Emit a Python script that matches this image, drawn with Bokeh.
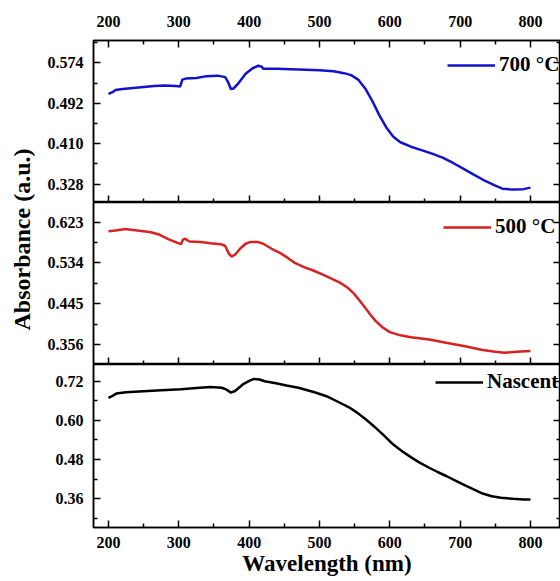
from bokeh.plotting import figure
from bokeh.models import (Range1d, LinearAxis, FixedTicker, PrintfTickFormatter,
                          Legend, LegendItem, Label, CustomLabelingPolicy)
from bokeh.layouts import row, column
from bokeh.embed import file_html
from bokeh.resources import INLINE

# ---------------- data ----------------
wl_700 = [200, 205, 210, 220, 235, 250, 265, 280, 295, 302, 305, 310, 325, 340, 355,
          366, 370, 374, 378, 385, 395, 405, 413, 418, 420, 440, 460, 480, 500, 520,
          535, 545, 555, 565, 575, 585, 595, 605, 615, 630, 645, 660, 675, 690, 705,
          720, 735, 750, 760, 775, 790, 800]
abs_700 = [0.511, 0.514, 0.519, 0.521, 0.523, 0.525, 0.527, 0.528, 0.527, 0.526, 0.540,
           0.542, 0.543, 0.547, 0.548, 0.545, 0.535, 0.521, 0.522, 0.533, 0.552, 0.563,
           0.568, 0.566, 0.562, 0.562, 0.561, 0.560, 0.559, 0.557, 0.553, 0.549, 0.540,
           0.522, 0.497, 0.468, 0.443, 0.424, 0.413, 0.404, 0.397, 0.390, 0.382, 0.371,
           0.359, 0.347, 0.335, 0.325, 0.319, 0.317, 0.318, 0.321]

wl_500 = [200, 210, 224, 235, 250, 260, 272, 285, 298, 303, 306, 309, 315, 331, 345,
          360, 366, 371, 375, 380, 387, 395, 402, 412, 420, 432, 445, 455, 465, 478,
          492, 504, 517, 529, 540, 549, 557, 565, 573, 580, 590, 600, 615, 630, 656,
          680, 707, 732, 750, 763, 780, 800]
abs_500 = [0.603, 0.605, 0.608, 0.606, 0.603, 0.601, 0.596, 0.586, 0.578, 0.575, 0.585,
           0.587, 0.581, 0.580, 0.577, 0.575, 0.571, 0.555, 0.548, 0.552, 0.565, 0.576,
           0.580, 0.580, 0.576, 0.565, 0.555, 0.545, 0.534, 0.525, 0.517, 0.509, 0.500,
           0.491, 0.480, 0.467, 0.452, 0.436, 0.420, 0.407, 0.393, 0.383, 0.376, 0.372,
           0.367, 0.360, 0.352, 0.344, 0.340, 0.338, 0.340, 0.342]

wl_nas = [200, 205, 211, 225, 250, 275, 303, 325, 345, 361, 368, 374, 380, 391, 400,
          407, 415, 422, 440, 453, 470, 493, 510, 529, 542, 554, 567, 580, 593, 605,
          618, 631, 643, 656, 668, 681, 694, 707, 720, 732, 745, 758, 775, 790, 800]
abs_nas = [0.669, 0.674, 0.682, 0.686, 0.689, 0.692, 0.695, 0.699, 0.702, 0.700, 0.694,
           0.685, 0.690, 0.710, 0.721, 0.727, 0.725, 0.720, 0.713, 0.707, 0.700, 0.686,
           0.674, 0.654, 0.640, 0.623, 0.601, 0.577, 0.551, 0.526, 0.505, 0.486, 0.470,
           0.455, 0.442, 0.429, 0.415, 0.401, 0.388, 0.376, 0.368, 0.363, 0.360, 0.358,
           0.358]

x_ticks = [200, 300, 400, 500, 600, 700, 800]
x_minor = [250, 350, 450, 550, 650, 750]
y_ticks_700 = [0.328, 0.410, 0.492, 0.574]
y_minor_700 = [0.369, 0.451, 0.533, 0.615]
y_ticks_500 = [0.356, 0.445, 0.534, 0.623]
y_minor_500 = [0.4005, 0.4895, 0.5785]
y_ticks_nas = [0.36, 0.48, 0.60, 0.72]
y_minor_nas = [0.30, 0.42, 0.54, 0.66]

labels = ["700 \u00b0C", "500 \u00b0C", "Nascent"]
colors = ["#1212cc", "#d62222", "#000000"]
x_title = "Wavelength (nm)"
y_title = "Absorbance (a.u.)"

FONT = "Liberation Serif"
xr = Range1d(178.7, 842.7)

HIDE_CODE = """
for (let i = 0; i < indices.size; i++) { indices.unset(i) }
return indices
"""


def style_axis(ax, show_labels, standoff=8):
    ax.major_tick_in = 7
    ax.major_tick_out = 0
    ax.minor_tick_in = 4
    ax.minor_tick_out = 0
    ax.axis_line_width = 1.5
    ax.major_tick_line_width = 1.5
    ax.minor_tick_line_width = 1.5
    ax.axis_line_color = "black"
    ax.major_tick_line_color = "black"
    ax.minor_tick_line_color = "black"
    if show_labels:
        ax.major_label_text_font = FONT
        ax.major_label_text_font_style = "bold"
        ax.major_label_text_font_size = "16px"
        ax.major_label_text_color = "black"
        ax.major_label_standoff = standoff
    else:
        ax.major_label_text_font_size = "0px"
        ax.major_label_standoff = 0
        ax.major_label_policy = CustomLabelingPolicy(code=HIDE_CODE)


def make_panel(yr, frame_h, top, bottom, yt, ym, fmt, xs, ys, label, color,
               leg_loc, show_top, show_bottom_labels):
    p = figure(frame_width=467, frame_height=frame_h, x_range=xr,
               y_range=Range1d(*yr), output_backend="svg", toolbar_location=None,
               x_axis_location=None, y_axis_location=None,
               min_border_left=50, min_border_right=0,
               min_border_top=top, min_border_bottom=bottom)
    p.xgrid.visible = False
    p.ygrid.visible = False
    p.outline_line_color = "black"
    p.outline_line_width = 1.5
    p.background_fill_color = "white"
    p.border_fill_color = "white"

    if show_top:
        a = LinearAxis(ticker=FixedTicker(ticks=x_ticks, minor_ticks=x_minor))
        style_axis(a, True, standoff=14)
        p.add_layout(a, "above")
    b = LinearAxis(ticker=FixedTicker(ticks=x_ticks, minor_ticks=x_minor))
    style_axis(b, show_bottom_labels, standoff=9)
    if show_bottom_labels:
        b.axis_label = x_title
        b.axis_label_standoff = 0
        b.axis_label_text_font = FONT
        b.axis_label_text_font_style = "bold"
        b.axis_label_text_font_size = "23px"
        b.axis_label_text_color = "black"
    p.add_layout(b, "below")

    yl = LinearAxis(ticker=FixedTicker(ticks=yt, minor_ticks=ym),
                    formatter=PrintfTickFormatter(format=fmt))
    style_axis(yl, True, standoff=10)
    p.add_layout(yl, "left")
    yrax = LinearAxis(ticker=FixedTicker(ticks=yt, minor_ticks=ym))
    style_axis(yrax, False)
    p.add_layout(yrax, "right")

    r = p.line(xs, ys, line_color=color, line_width=2.5)
    leg = Legend(items=[LegendItem(label=label, renderers=[r])], location=leg_loc,
                 padding=0, margin=0, border_line_color=None,
                 background_fill_alpha=0, glyph_width=48, glyph_height=20,
                 label_height=20, label_standoff=4, label_text_font=FONT,
                 label_text_font_style="bold", label_text_font_size="21px",
                 label_text_color="black")
    p.add_layout(leg)
    return p


p1 = make_panel((0.2909, 0.6192), 162, 40, 0, y_ticks_700, y_minor_700, "%.3f",
                wl_700, abs_700, labels[0], colors[0], (354, 125), True, False)
p2 = make_panel((0.3123, 0.6660), 162, 0, 0, y_ticks_500, y_minor_500, "%.3f",
                wl_500, abs_500, labels[1], colors[1], (350, 125), False, False)
p3 = make_panel((0.2721, 0.7711), 163, 0, 52, y_ticks_nas, y_minor_nas, "%.2f",
                wl_nas, abs_nas, labels[2], colors[2], (342, 133), False, True)

strip = figure(frame_width=43, frame_height=579, min_border=0,
               x_range=Range1d(0, 43), y_range=Range1d(0, 579),
               x_axis_location=None, y_axis_location=None,
               toolbar_location=None, output_backend="svg")
strip.xgrid.visible = False
strip.ygrid.visible = False
strip.outline_line_color = None
strip.add_layout(Label(x=21, y=340, text=y_title, angle=90,
                       angle_units="deg", text_align="center",
                       text_baseline="middle", text_font=FONT,
                       text_font_style="bold", text_font_size="24px",
                       text_color="black"))

layout = row(strip, column(p1, p2, p3, spacing=0), spacing=0)

open("out.html", "w").write(file_html(layout, INLINE))
